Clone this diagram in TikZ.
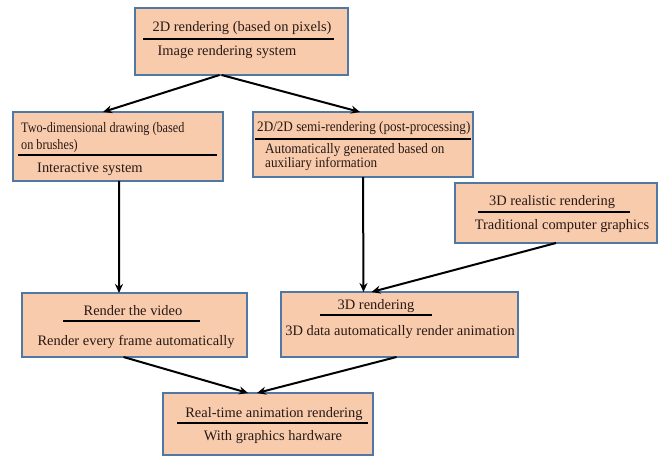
\documentclass[tikz,border=0pt]{standalone}
\usepackage{fontspec}
\setmainfont{Liberation Serif}
\newfontfamily\narrowa[FakeStretch=0.845]{Liberation Serif}
\newfontfamily\narrowb[FakeStretch=0.91]{Liberation Serif}
\usetikzlibrary{arrows.meta}
\definecolor{boxfill}{RGB}{248,203,173}
\definecolor{boxedge}{RGB}{80,120,165}
\definecolor{txt}{RGB}{40,25,20}
\begin{document}
\begin{tikzpicture}[x=1bp,y=-1bp,
  box/.style={draw=boxedge,line width=1.3bp,fill=boxfill,anchor=north west,inner sep=0,outer sep=0},
  big/.style={font=\fontsize{14.5}{16}\selectfont},
  nara/.style={font=\fontsize{14.5}{16}\selectfont\narrowa},
  narb/.style={font=\fontsize{14.5}{16}\selectfont\narrowb},
  lbl/.style={text=txt,inner sep=0,anchor=base},
  lbll/.style={text=txt,inner sep=0,anchor=base west},
  sep/.style={line width=2.6bp,black},
  conn/.style={line width=2bp,black,-{Stealth[length=9bp,width=8bp]}}]
\useasboundingbox (0,0) rectangle (659,457);
% boxes
\node[box,minimum width=213bp,minimum height=67bp] (b1) at (135,8) {};
\node[box,minimum width=210bp,minimum height=69bp] (b2) at (13,112) {};
\node[box,minimum width=220bp,minimum height=65bp] (b3) at (253,112) {};
\node[box,minimum width=202bp,minimum height=60bp] (b4) at (455,183) {};
\node[box,minimum width=225bp,minimum height=64bp] (b5) at (22,293) {};
\node[box,minimum width=237bp,minimum height=65bp] (b6) at (281,292) {};
\node[box,minimum width=210bp,minimum height=62bp] (b7) at (163,393) {};
% texts
\node[lbl,big] (t1a) at (242,32) {2D rendering (based on pixels)};
\draw[sep] (143,39) -- (334,39);
\node[lbl,big] (t1b) at (227,56) {Image rendering system};
\node[lbll,nara] (t2a) at (21,133) {Two-dimensional drawing (based};
\node[lbll,nara] (t2b) at (21,150) {on brushes)};
\draw[sep] (18,155) -- (217,155);
\node[lbll,big] (t2c) at (37,173) {Interactive system};
\node[lbll,narb] (t3a) at (257,132) {2D/2D semi-rendering (post-processing)};
\draw[sep] (255,139) -- (471,139);
\node[lbll,narb] (t3b) at (265,154) {Automatically generated based on};
\node[lbll,narb] (t3c) at (265,168) {auxiliary information};
\node[lbl,big] (t4a) at (552,206) {3D realistic rendering};
\draw[sep] (478,212) -- (630,212);
\node[lbl,big] (t4b) at (562,230) {Traditional computer graphics};
\node[lbl,big] (t5a) at (133,316) {Render the video};
\draw[sep] (63,321) -- (200,321);
\node[lbl,big] (t5b) at (136,345) {Render every frame automatically};
\node[lbl,big] (t6a) at (376,310) {3D rendering};
\draw[sep] (320,315) -- (432,315);
\node[lbl,big] (t6b) at (400,335) {3D data automatically render animation};
\node[lbl,big] (t7a) at (274,417) {Real-time animation rendering};
\draw[sep] (177,423) -- (368,423);
\node[lbl,big] (t7b) at (273,440) {With graphics hardware};
% connectors
\draw[conn] ([xshift=-22bp]b1.south) -- ([xshift=-15bp]b2.north);
\draw[conn] ([xshift=-20bp]b1.south) -- ([xshift=-3bp]b3.north);
\draw[conn] ([xshift=1bp]b2.south) -- ([xshift=-15.5bp]b5.north);
\draw[conn] ([xshift=0bp]b3.south) -- ([xshift=-36bp]b6.north);
\draw[conn] ([xshift=0bp]b4.south) -- ([xshift=-28bp]b6.north);
\draw[conn] ([xshift=-11bp]b5.south) -- ([xshift=-20bp]b7.north);
\draw[conn] ([xshift=-3bp]b6.south) -- ([xshift=-11bp]b7.north);
\end{tikzpicture}
\end{document}
